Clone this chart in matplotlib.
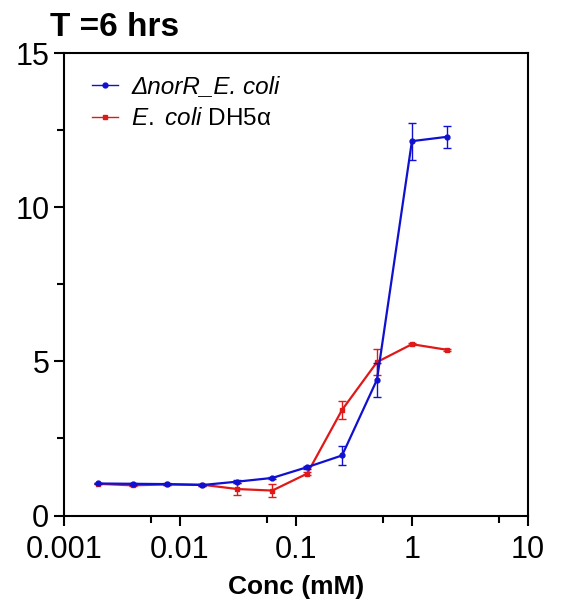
import numpy as np
import matplotlib
matplotlib.use("Agg")
import matplotlib.pyplot as plt
from matplotlib.ticker import FixedLocator, NullFormatter

# --- data ---
conc = [0.00195, 0.0039, 0.0078, 0.0156, 0.03125, 0.0625, 0.125, 0.25, 0.5, 1.0, 2.0]

norR_mean = [1.04, 1.03, 1.02, 0.99, 1.10, 1.22, 1.57, 1.95, 4.41, 12.15, 12.29]
norR_err = [0.03, 0.03, 0.03, 0.03, 0.04, 0.04, 0.05, 0.32, 0.55, 0.60, 0.36]

dh5a_mean = [1.03, 0.98, 1.01, 1.00, 0.86, 0.81, 1.36, 3.43, 4.98, 5.56, 5.38]
dh5a_err = [0.02, 0.03, 0.02, 0.03, 0.20, 0.20, 0.05, 0.30, 0.43, 0.04, 0.04]

x_ticks = [0.001, 0.01, 0.1, 1, 10]
x_ticklabels = ["0.001", "0.01", "0.1", "1", "10"]
y_ticks = [0, 5, 10, 15]

plt.rcParams['font.family'] = ['Liberation Sans', 'DejaVu Sans']
plt.rcParams['mathtext.fontset'] = 'custom'
plt.rcParams['mathtext.rm'] = 'Liberation Sans'
plt.rcParams['mathtext.it'] = 'Liberation Sans:italic'

fig = plt.figure(figsize=(5.61, 6.13), dpi=100)
ax = fig.add_axes([0.114, 0.159, 0.827, 0.754])

blue = '#1010d0'
red = '#e01818'

eb1 = ax.errorbar(conc, norR_mean, yerr=norR_err, color=blue, marker='o', markersize=3.5,
                  linewidth=1.6, elinewidth=1.0, capsize=3, capthick=1.0, zorder=3)
eb2 = ax.errorbar(conc, dh5a_mean, yerr=dh5a_err, color=red, marker='s', markersize=3.2,
                  linewidth=1.6, elinewidth=1.0, capsize=3, capthick=1.0, zorder=2)

ax.set_xscale('log')
ax.set_xlim(0.001, 10)
ax.set_ylim(0, 15)
ax.xaxis.set_major_locator(FixedLocator(x_ticks))
ax.set_xticklabels(x_ticklabels)
ax.xaxis.set_minor_locator(FixedLocator([10 ** (k + 0.75) for k in range(-3, 1)]))
ax.xaxis.set_minor_formatter(NullFormatter())
ax.set_yticks(y_ticks)
ax.set_yticks([2.5, 7.5, 12.5], minor=True)

ax.tick_params(axis='both', which='major', direction='out', length=7.5, width=1.5,
               labelsize=22, pad=3)
ax.tick_params(axis='x', which='major', pad=6.5)
ax.tick_params(axis='both', which='minor', direction='out', length=5, width=1.5)
for s in ax.spines.values():
    s.set_linewidth(1.5)

ax.set_xlabel("Conc (mM)", fontsize=19, fontweight='bold', labelpad=7)
fig.text(0.089, 0.955, "T =6 hrs", fontsize=24, fontweight='bold', va='center', ha='left')

leg = ax.legend([eb1[0], eb2[0]],
                ["ΔnorR_E. coli", r"$\mathit{E.\ coli}$ DH5α"],
                loc='upper left', frameon=False, fontsize=17.5, handlelength=1.05,
                handletextpad=0.55, labelspacing=0.4, borderaxespad=0.0,
                bbox_to_anchor=(0.04, 0.973), numpoints=1)
leg.get_texts()[0].set_fontstyle('italic')
for h in leg.legend_handles:
    h.set_linewidth(1.0)

fig.savefig("out.png", dpi=100)
